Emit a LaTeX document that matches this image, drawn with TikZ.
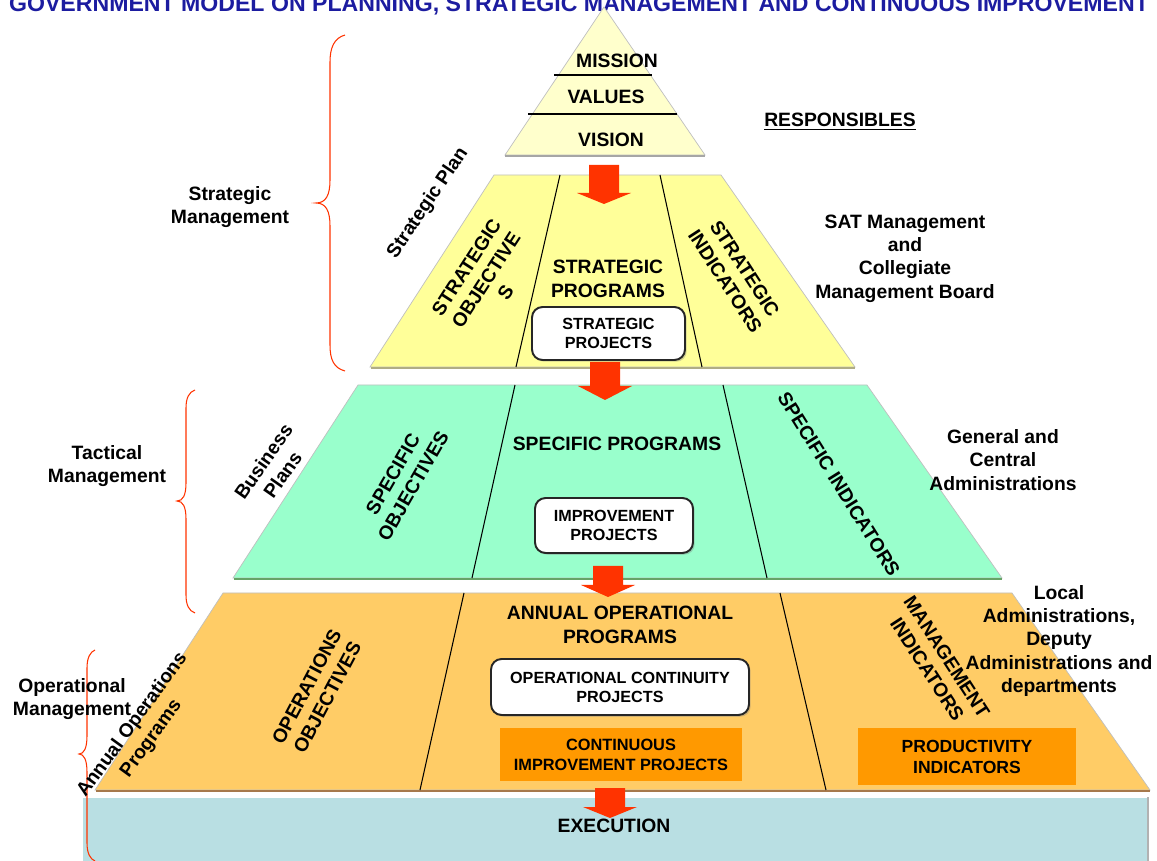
\documentclass[tikz,border=0pt]{standalone}
\usepackage{fontspec}
\setmainfont{Liberation Sans}
\usepackage{graphicx}
\usetikzlibrary{shadows}

\definecolor{apexyellow}{HTML}{FFFFCC}
\definecolor{stratyellow}{HTML}{FFFF99}
\definecolor{tactgreen}{HTML}{99FFCC}
\definecolor{operorange}{HTML}{FFCC66}
\definecolor{boxorange}{HTML}{FF9900}
\definecolor{execblue}{HTML}{B9DFE3}
\definecolor{arrowred}{HTML}{FF3300}
\definecolor{titleblue}{HTML}{1C1CA0}

\begin{document}
\begin{tikzpicture}[x=0.02cm, y=-0.02cm,
    lbl/.style={font=\bfseries\fontsize{11}{13.3}\selectfont, align=center, inner sep=0pt},
    projbox/.style={draw=black!85, line width=1.1pt, rounded corners=6pt, fill=white,
        drop shadow={shadow xshift=1pt, shadow yshift=-1pt, opacity=.35},
        font=\bfseries\fontsize{9.2}{10.8}\selectfont, align=center, inner sep=0pt},
    orangebox/.style={fill=boxorange, align=center, inner sep=0pt,
        font=\bfseries\fontsize{9.3}{11.3}\selectfont},
    level/.style={draw=black!25, line width=.4pt},
    divider/.style={line width=.6pt},
    brace/.style={draw=arrowred, line width=.6pt}]
\useasboundingbox (0,0) rectangle (1157,861);

% heading, partly cut at the top
\node[anchor=base, inner sep=0pt, text=titleblue, font=\bfseries\fontsize{13}{15}\selectfont] (title) at (579,12)
    {\resizebox{22.8cm}{!}{GOVERNMENT MODEL ON PLANNING, STRATEGIC MANAGEMENT AND CONTINUOUS IMPROVEMENT}};

% pyramid
\filldraw[level, fill=apexyellow] (604,7) -- (705,155) -- (505,155) -- cycle;
\filldraw[level, fill=stratyellow] (494,175) -- (721,175) -- (855,367) -- (370,367) -- cycle;
\filldraw[level, fill=tactgreen] (358,385) -- (867,385) -- (1002,578) -- (233,578) -- cycle;
\filldraw[level, fill=operorange] (223,593) -- (1012,593) -- (1150,790) -- (95,790) -- cycle;
\fill[execblue] (83,797) rectangle (1148,880);
\draw[white, line width=1pt] (83,797.5) -- (1148,797.5);
\draw[black!30, line width=.8pt] (1148,797) -- (1148,880);

% shadow under each level
\draw[black!35, line width=.9pt] (505,156) -- (705,156);
\draw[yellow!40!black!60, line width=.9pt] (371,368) -- (855,368);
\draw[green!40!black!60, line width=.9pt] (234,579) -- (1002,579);
\draw[orange!50!black!70, line width=.9pt] (96,791) -- (1150,791);

% inner lines
\draw[divider] (554,75) -- (652,75);
\draw[divider] (528,114) -- (677,114);
\draw[divider] (560,175) -- (516,367);
\draw[divider] (660,175) -- (702,367);
\draw[divider] (515,385) -- (472,578);
\draw[divider] (723,385) -- (767,578);
\draw[divider] (464,593) -- (420,790);
\draw[divider] (780,593) -- (826,790);

% block arrows between levels
\foreach \ax/\ya/\yb/\yc in {604/165/193/204, 605/362/386/400, 608/566/585/597, 610/788/807/818}
  \fill[arrowred] (\ax-15,\ya) -- (\ax+15,\ya) -- (\ax+15,\yb) -- (\ax+27,\yb) -- (\ax,\yc)
      -- (\ax-27,\yb) -- (\ax-15,\yb) -- cycle;

% braces
\draw[brace] (345,35) .. controls (334,38) and (330,48) .. (330,62) -- (330,180)
    .. controls (330,195) and (326,203) .. (316,203) .. controls (326,203) and (330,211) .. (330,226)
    -- (330,345) .. controls (330,360) and (334,368) .. (345,371);
\draw[brace] (195,390) .. controls (189,392) and (186,398) .. (186,408) -- (186,483)
    .. controls (186,495) and (183,501) .. (177,501) .. controls (183,501) and (186,507) .. (186,519)
    -- (186,595) .. controls (186,605) and (189,611) .. (195,613);
\draw[brace] (95,650) .. controls (90,652) and (87,658) .. (87,668) -- (87,736)
    .. controls (87,748) and (84,754) .. (79,754) .. controls (84,754) and (87,760) .. (87,772)
    -- (87,843) .. controls (87,853) and (90,859) .. (95,861);

% apex
\node[lbl] (mission) at (617,61) {MISSION};
\node[lbl] (values) at (606,97) {VALUES};
\node[lbl] (vision) at (611,140) {VISION};
\node[lbl, anchor=base] (resp) at (840,127) {\underline{RESPONSIBLES}};

% strategic level
\node[lbl, rotate=56] (stratplan) at (428,203) {Strategic Plan};
\node[lbl, rotate=57] (stratobj) at (486,280) {STRATEGIC\\OBJECTIVE\\S};
\node[lbl] (stratprog) at (608,279) {STRATEGIC\\PROGRAMS};
\node[projbox, minimum width=3.06cm, minimum height=1.06cm] (stratproj) at (608.5,333.5) {STRATEGIC\\PROJECTS};
\node[lbl, rotate=-57] (stratind) at (735,275) {STRATEGIC\\INDICATORS};
\node[lbl] (satmgmt) at (905,258.5) {SAT Management\\and\\Collegiate\\Management Board};
\node[lbl] (stratmgmt) at (230,207) {Strategic\\Management};

% tactical level
\node[lbl, rotate=55] (bizplans) at (273,468) {Business\\Plans};
\node[lbl, rotate=60] (specobj) at (403,480) {SPECIFIC\\OBJECTIVES};
\node[lbl] (specprog) at (617,444) {SPECIFIC PROGRAMS};
\node[projbox, minimum width=3.16cm, minimum height=1.1cm] (improvproj) at (614,525.5) {IMPROVEMENT\\PROJECTS};
\node[lbl, rotate=-58] (specind) at (839,484) {SPECIFIC INDICATORS};
\node[lbl] (genadm) at (1003,460) {General and\\Central\\Administrations};
\node[lbl] (tactmgmt) at (107,466) {Tactical\\Management};

% operational level
\node[lbl, rotate=54] (annualops) at (142,732) {Annual Operations\\Programs};
\node[lbl, rotate=62] (opsobj) at (317,692) {OPERATIONS\\OBJECTIVES};
\node[lbl] (annualprog) at (620,625) {ANNUAL OPERATIONAL\\PROGRAMS};
\node[projbox, minimum width=5.16cm, minimum height=1.12cm] (opcont) at (620,687) {OPERATIONAL CONTINUITY\\PROJECTS};
\node[orangebox, minimum width=4.84cm, minimum height=1.06cm] (contimp) at (621,754.5) {CONTINUOUS\\IMPROVEMENT PROJECTS};
\node[lbl, rotate=-57] (mgmtind) at (937,663) {MANAGEMENT\\INDICATORS};
\node[orangebox, font=\bfseries\fontsize{10}{12}\selectfont, minimum width=4.36cm, minimum height=1.14cm] (prodind) at (967,756.5) {PRODUCTIVITY\\INDICATORS};
\node[lbl] (localadm) at (1059,641) {Local\\Administrations,\\Deputy\\Administrations and\\departments};
\node[lbl] (opmgmt) at (72,699) {Operational\\Management};

\node[lbl] (exec) at (614,826) {EXECUTION};
\end{tikzpicture}
\end{document}
